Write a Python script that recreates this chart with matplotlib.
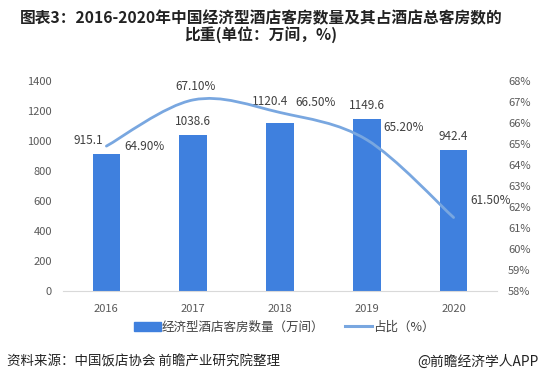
import matplotlib.pyplot as plt
import numpy as np
from matplotlib.path import Path
from matplotlib.patches import PathPatch
from matplotlib.lines import Line2D
from matplotlib.patches import Patch

plt.rcParams['font.family'] = ['Noto Sans CJK SC', 'DejaVu Sans']

years = ['2016', '2017', '2018', '2019', '2020']
rooms = [915.1, 1038.6, 1120.4, 1149.6, 942.4]
share = [64.9, 67.1, 66.5, 65.2, 61.5]
share_labels = ['64.90%', '67.10%', '66.50%', '65.20%', '61.50%']

bar_color = '#3F80DE'
line_color = '#79A7E0'
text_color = '#404040'
tick_color = '#595959'

fig = plt.figure(figsize=(5.42, 3.82), dpi=100)
ax = fig.add_axes([63 / 542, 1 - 291 / 382, 434 / 542, 210 / 382])
ax2 = ax.twinx()

x = np.arange(len(years))
ax.bar(x, rooms, width=0.32, color=bar_color, zorder=2)
ax.set_xlim(-0.5, len(years) - 0.5)
ax.set_ylim(0, 1400)
ax.set_yticks(range(0, 1401, 200))
ax.set_xticks(x)
ax.set_xticklabels(years)
ax2.set_ylim(58, 68)
ax2.set_yticks(range(58, 69))
ax2.set_yticklabels([f'{v}%' for v in range(58, 69)])

for a in (ax, ax2):
    for s in ['top', 'right', 'left']:
        a.spines[s].set_visible(False)
    a.tick_params(length=0, labelsize=8, colors=tick_color)
ax.spines['bottom'].set_color('#D9D9D9')
ax2.spines['bottom'].set_visible(False)
ax.tick_params(axis='y', pad=8)
ax.tick_params(axis='x', pad=9)
ax2.tick_params(axis='y', pad=8)

# smooth line through the share points (Catmull-Rom -> cubic bezier)
pts = np.column_stack([x, share]).astype(float)
ext = np.vstack([pts[0], pts, pts[-1]])
verts = [tuple(pts[0])]
codes = [Path.MOVETO]
for i in range(len(pts) - 1):
    p0, p1, p2, p3 = ext[i], ext[i + 1], ext[i + 2], ext[i + 3]
    c1 = p1 + (p2 - p0) / 6
    c2 = p2 - (p3 - p1) / 6
    verts += [tuple(c1), tuple(c2), tuple(p2)]
    codes += [Path.CURVE4] * 3
ax2.add_patch(PathPatch(Path(verts, codes), fill=False, edgecolor=line_color,
                        lw=2.0, capstyle='round', zorder=3))

# bar labels
bar_offsets = [(-0.21, 45), (0, 45), (-0.12, 100), (0, 45), (0, 45)]
for i, v in enumerate(rooms):
    dx, dy = bar_offsets[i]
    ax.text(i + dx, v + dy, f'{v}', ha='center', va='bottom', fontsize=8.5,
            color=text_color, zorder=4)

# share labels
share_pos = [(0.44, 0.0), (0.03, 0.65), (0.41, 0.5), (0.43, 0.6), (0.43, 0.8)]
for i, v in enumerate(share):
    dx, dy = share_pos[i]
    ax2.text(i + dx, v + dy, share_labels[i], ha='center', va='center',
             fontsize=8.5, color=text_color)

handles = [Patch(color=bar_color), Line2D([0], [0], color=line_color, lw=2.2)]
fig.legend(handles, ['经济型酒店客房数量（万间）', '占比（%）'], loc='center',
           bbox_to_anchor=(284 / 542, 1 - 327 / 382), ncol=2, frameon=False,
           fontsize=9, handlelength=2.2, handletextpad=0.05, columnspacing=1.6,
           labelcolor=text_color)

fig.text(261 / 542, 1 - 18.5 / 382, '图表3：2016-2020年中国经济型酒店客房数量及其占酒店总客房数的',
         ha='center', va='center', fontsize=11.3, fontweight='bold', color='#222222')
fig.text(261 / 542, 1 - 34.5 / 382, '比重(单位：万间，%)', ha='center', va='center',
         fontsize=11.3, fontweight='bold', color='#222222')
fig.text(7 / 542, 1 - 362 / 382, '资料来源：中国饭店协会 前瞻产业研究院整理',
         ha='left', va='center', fontsize=9.7, color='#222222')
fig.text(539 / 542, 1 - 362 / 382, '@前瞻经济学人APP', ha='right', va='center',
         fontsize=9.9, color='#222222')

fig.savefig('out.png', dpi=100)
